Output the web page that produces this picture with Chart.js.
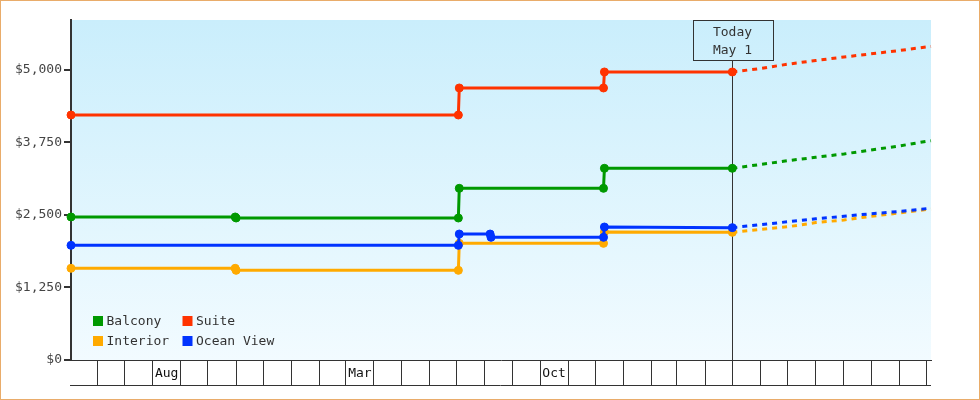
<!DOCTYPE html>
<html><head><meta charset="utf-8">
<script src="https://cdn.jsdelivr.net/npm/chart.js@4.4.1/dist/chart.umd.min.js"></script>
<style>
html,body{margin:0;padding:0;background:#fff;}
#wrap{position:relative;width:980px;height:400px;}
#frame{position:absolute;left:0;top:0;width:980px;height:400px;box-sizing:border-box;border:1px solid #e9ac6a;pointer-events:none;}
canvas{position:absolute;left:0;top:0;}
</style></head><body>
<div id="wrap"><canvas id="c" width="980" height="400"></canvas><div id="frame"></div></div>
<script>
// ---- data ----
const axisStart = '2023-05-03';
const axisEnd = '2025-12-06';
const todayDate = '2025-05-01';
const todayLabel = ['Today', 'May 1'];
const yTicks = [0, 1250, 2500, 3750, 5000];
const yMax = 5862;
const monthNames = ['Jan','Feb','Mar','Apr','May','Jun','Jul','Aug','Sep','Oct','Nov','Dec'];
const labelledMonths = ['2023-08', '2024-03', '2024-10'];

const seriesNames = ['Balcony', 'Suite', 'Interior', 'Ocean View'];
const seriesColors = ['#009900', '#ff3300', '#ffaa00', '#0033ff'];

const forecastDates = ['2025-06-01','2025-07-01','2025-08-01','2025-09-01','2025-10-01','2025-11-01','2025-12-01','2025-12-06'];

const balconyDates = ['2023-05-03','2023-10-31','2023-11-01','2024-07-03','2024-07-04','2024-12-10','2024-12-11','2025-05-01'];
const balconyValues = [2466, 2466, 2448, 2448, 2960, 2960, 3305, 3305];
const balconyForecast = [3371, 3436, 3495, 3552, 3621, 3690, 3770, 3779];

const suiteDates = ['2023-05-03','2024-07-03','2024-07-04','2024-12-10','2024-12-11','2025-05-01'];
const suiteValues = [4224, 4224, 4690, 4690, 4966, 4966];
const suiteForecast = [5026, 5100, 5164, 5224, 5279, 5336, 5397, 5405];

const interiorDates = ['2023-05-03','2023-10-31','2023-11-01','2024-07-03','2024-07-04','2024-12-10','2024-12-11','2025-05-01'];
const interiorValues = [1581, 1581, 1546, 1546, 2011, 2011, 2207, 2201];
const interiorForecast = [2250, 2297, 2369, 2414, 2478, 2534, 2595, 2603];

const oceanDates = ['2023-05-03','2024-07-03','2024-07-04','2024-08-07','2024-08-08','2024-12-10','2024-12-11','2025-05-01'];
const oceanValues = [1977, 1977, 2172, 2172, 2115, 2115, 2293, 2282];
const oceanForecast = [2333, 2383, 2434, 2478, 2522, 2560, 2610, 2619];

// ---- helpers ----
const FONT_FAMILY = '"DejaVu Sans Mono", monospace';
const dayNum = s => { const p = s.split('-').map(Number); return Date.UTC(p[0], p[1]-1, p[2] || 1) / 864e5; };
const T = dayNum(todayDate);
const X0 = dayNum(axisStart), X1 = dayNum(axisEnd);

// month boundaries inside the axis range
const monthStarts = [];
{
  let y = 2023, m = 4;
  while (true) {
    const v = Date.UTC(y, m, 1) / 864e5;
    if (v > X1) break;
    if (v > X0) monthStarts.push({ v, y, m });
    m++; if (m > 11) { m = 0; y++; }
  }
}

function makeSeries(i, dates, values, forecast, order) {
  const pts = dates.map((d, k) => ({ x: dayNum(d), y: values[k] }))
    .concat(forecastDates.map((d, k) => ({ x: dayNum(d), y: forecast[k] })));
  return {
    label: seriesNames[i],
    data: pts,
    borderColor: seriesColors[i],
    backgroundColor: seriesColors[i],
    pointBackgroundColor: seriesColors[i],
    pointBorderColor: seriesColors[i],
    borderWidth: 3,
    pointBorderWidth: 1,
    pointRadius: ctx => (ctx.raw && ctx.raw.x > T) ? 0 : 4,
    pointHoverRadius: 4,
    tension: 0,
    clip: false,
    borderCapStyle: 'butt',
    order: order,
    segment: { borderDash: ctx => ctx.p0.parsed.x >= T ? [5, 5] : undefined }
  };
}

const datasets = [
  makeSeries(0, balconyDates, balconyValues, balconyForecast, 2),
  makeSeries(1, suiteDates, suiteValues, suiteForecast, 1),
  makeSeries(2, interiorDates, interiorValues, interiorForecast, 3),
  makeSeries(3, oceanDates, oceanValues, oceanForecast, 0)
];

// ---- plugins ----
const bgPlugin = {
  id: 'bg',
  beforeDraw(chart) {
    const { ctx, chartArea: a } = chart;
    const g = ctx.createLinearGradient(0, a.top, 0, a.bottom);
    g.addColorStop(0, '#caeefc');
    g.addColorStop(1, '#f2fbff');
    ctx.save();
    ctx.fillStyle = g;
    ctx.fillRect(a.left, a.top, a.right - a.left, a.bottom - a.top);
    ctx.restore();
  }
};

const todayPlugin = {
  id: 'today',
  beforeDatasetsDraw(chart) {
    const { ctx, chartArea: a, scales } = chart;
    const x = Math.round(scales.x.getPixelForValue(T)) + 0.5;
    const bw = 80, bh = 40;
    ctx.save();
    ctx.strokeStyle = '#333';
    ctx.lineWidth = 1;
    ctx.beginPath();
    ctx.moveTo(x, a.top + bh);
    ctx.lineTo(x, a.bottom + 25);
    ctx.stroke();
    ctx.strokeRect(Math.round(x - bw / 2) + 0.5, a.top + 0.5, bw, bh);
    ctx.fillStyle = '#333';
    ctx.font = '13px ' + FONT_FAMILY;
    ctx.textAlign = 'center';
    ctx.textBaseline = 'middle';
    ctx.fillText(todayLabel[0], x, a.top + 13);
    ctx.fillText(todayLabel[1], x, a.top + 31);
    ctx.restore();
  }
};

const cellsPlugin = {
  id: 'cells',
  afterDraw(chart) {
    const { ctx, chartArea: a, scales } = chart;
    const xs = scales.x;
    ctx.save();
    ctx.strokeStyle = '#333';
    ctx.lineWidth = 1;
    ctx.beginPath();
    ctx.moveTo(a.left - 1, a.bottom + 25.5);
    ctx.lineTo(a.right, a.bottom + 25.5);
    ctx.stroke();
    ctx.fillStyle = '#111';
    ctx.font = '13px ' + FONT_FAMILY;
    ctx.textAlign = 'center';
    ctx.textBaseline = 'middle';
    labelledMonths.forEach(s => {
      const p = s.split('-').map(Number);
      const a0 = Date.UTC(p[0], p[1] - 1, 1) / 864e5;
      const a1 = Date.UTC(p[0], p[1], 1) / 864e5;
      const cx = (xs.getPixelForValue(a0) + xs.getPixelForValue(a1)) / 2;
      ctx.fillText(monthNames[p[1] - 1], cx, a.bottom + 13.5);
    });
    ctx.restore();
  }
};

const legendPlugin = {
  id: 'legendIn',
  afterDatasetsDraw(chart) {
    const { ctx, chartArea: a } = chart;
    ctx.save();
    ctx.font = '13px ' + FONT_FAMILY;
    ctx.textBaseline = 'middle';
    ctx.textAlign = 'left';
    chart.data.datasets.forEach((ds, i) => {
      const col = i % 2, row = Math.floor(i / 2);
      const x = a.left + 22 + col * 89.5;
      const y = a.bottom - 44 + row * 20;
      ctx.fillStyle = ds.borderColor;
      ctx.fillRect(x, y, 10, 10);
      ctx.fillStyle = '#333';
      ctx.fillText(ds.label, x + 13.5, y + 5.5);
    });
    ctx.restore();
  }
};

Chart.defaults.font.family = FONT_FAMILY;
Chart.defaults.font.size = 13;

new Chart(document.getElementById('c'), {
  type: 'line',
  data: { datasets },
  options: {
    responsive: false,
    devicePixelRatio: 1,
    animation: false,
    layout: { padding: { top: 20, right: 49, left: 0, bottom: 0 } },
    plugins: { legend: { display: false }, tooltip: { enabled: false } },
    scales: {
      x: {
        type: 'linear',
        min: X0,
        max: X1,
        afterBuildTicks: s => { s.ticks = monthStarts.map(m => ({ value: m.v })); },
        afterFit: s => { s.height = 40; },
        ticks: { display: false },
        grid: { drawOnChartArea: false, drawTicks: true, tickLength: 25, color: '#333', lineWidth: 1 },
        border: { display: true, color: '#333', width: 1 }
      },
      y: {
        type: 'linear',
        min: 0,
        max: yMax,
        afterBuildTicks: s => { s.ticks = yTicks.map(v => ({ value: v })); },
        afterFit: s => { s.width = 71; },
        ticks: {
          color: '#444',
          padding: 2,
          font: { size: 13, family: FONT_FAMILY },
          callback: v => '$' + Number(v).toLocaleString('en-US')
        },
        grid: { drawOnChartArea: false, drawTicks: true, tickLength: 7, color: '#333', lineWidth: 2 },
        border: { display: true, color: '#333', width: 2 }
      }
    }
  },
  plugins: [bgPlugin, todayPlugin, cellsPlugin, legendPlugin]
});
</script>
</body></html>
